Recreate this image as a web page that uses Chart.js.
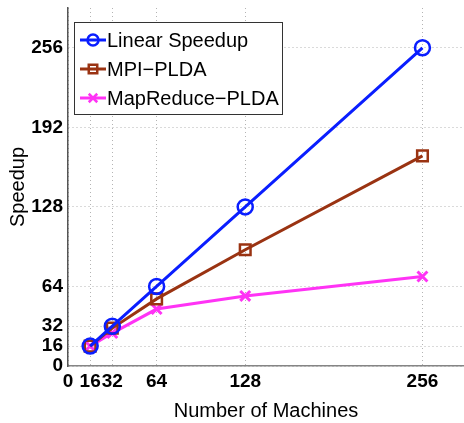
<!DOCTYPE html>
<html>
<head>
<meta charset="utf-8">
<script src="https://cdn.jsdelivr.net/npm/chart.js@4.4.1/dist/chart.umd.min.js"></script>
<style>
  body { margin: 0; background: #fff; }
  #wrap { width: 464px; height: 423px; }
</style>
</head>
<body>
<div id="wrap"><canvas id="speedupChart" width="464" height="423"></canvas></div>
<script>
// values
var machines = [16, 32, 64, 128, 256];
var linearSpeedup = [16, 32, 64, 128, 256];
var mpiPlda = [16, 30.5, 54, 93.5, 169];
var mapReducePlda = [16, 26.5, 45.8, 56.4, 72];
var xTicks = [0, 16, 32, 64, 128, 256];
var yTicks = [0, 16, 32, 64, 128, 192, 256];

var colors = {
    blue: "#0a1eff",
    brown: "#9a3312",
    magenta: "#ff33f5"
};

var fontFamily = '"Liberation Sans", Arial, sans-serif';

function toPoints(ys) {
    var pts = [];
    for (var i = 0; i < machines.length; i++) {
        pts.push({ x: machines[i], y: ys[i] });
    }
    return pts;
}

function fixedTicks(list) {
    return function(scale) {
        scale.ticks = list.map(function(v) { return { value: v }; });
    };
}

// matlab style legend box drawn inside the plot
var boxLegend = {
    id: 'boxLegend',
    afterDatasetsDraw: function(chart) {
        var ctx = chart.ctx;
        var x0 = 74, y0 = 22, w = 208, h = 92;
        ctx.save();
        ctx.fillStyle = '#fff';
        ctx.fillRect(x0, y0, w, h);
        ctx.strokeStyle = '#333';
        ctx.lineWidth = 1;
        ctx.strokeRect(x0 + 0.5, y0 + 0.5, w, h);
        ctx.font = '20px ' + fontFamily;
        ctx.textBaseline = 'middle';
        chart.data.datasets.forEach(function(ds, i) {
            var y = 40 + i * 29;
            ctx.strokeStyle = ds.borderColor;
            ctx.lineWidth = 3;
            ctx.beginPath();
            ctx.moveTo(80, y);
            ctx.lineTo(106, y);
            ctx.stroke();
            ctx.lineWidth = 2.5;
            ctx.fillStyle = 'rgba(0,0,0,0)';
            Chart.helpers.drawPoint(ctx, {
                pointStyle: ds.pointStyle,
                radius: ds.legendRadius,
                borderWidth: 2.5
            }, 93, y);
            ctx.fillStyle = '#000';
            ctx.fillText(ds.label, 107, y + 1);
        });
        ctx.restore();
    }
};

var config = {
    type: 'line',
    data: {
        datasets: [{
            label: 'Linear Speedup',
            data: toPoints(linearSpeedup),
            borderColor: colors.blue,
            backgroundColor: 'rgba(0,0,0,0)',
            pointStyle: 'circle',
            pointRadius: 7.5,
            legendRadius: 5.5,
            pointBorderWidth: 2.5
        }, {
            label: 'MPI\u2212PLDA',
            data: toPoints(mpiPlda),
            borderColor: colors.brown,
            backgroundColor: 'rgba(0,0,0,0)',
            pointStyle: 'rect',
            pointRadius: 7.5,
            legendRadius: 6,
            pointBorderWidth: 2.5
        }, {
            label: 'MapReduce\u2212PLDA',
            data: toPoints(mapReducePlda),
            borderColor: colors.magenta,
            backgroundColor: 'rgba(0,0,0,0)',
            pointStyle: 'crossRot',
            pointRadius: 7,
            legendRadius: 6,
            pointBorderWidth: 3
        }]
    },
    options: {
        responsive: false,
        animation: false,
        elements: {
            line: { borderWidth: 3, tension: 0 }
        },
        layout: {
            autoPadding: false,
            padding: { top: 8, right: 0, bottom: 0, left: 0 }
        },
        plugins: {
            legend: { display: false },
            tooltip: { enabled: false }
        },
        scales: {
            x: {
                type: 'linear',
                min: 0,
                max: 286,
                afterBuildTicks: fixedTicks(xTicks),
                afterFit: function(scale) {
                    scale.height = 57;
                    scale.paddingLeft = 0;
                    scale.paddingRight = 0;
                },
                grid: { color: '#b4b4b4', lineWidth: 1, drawTicks: false },
                border: { color: '#858585', width: 1.5, dash: [1, 3] },
                ticks: {
                    autoSkip: false,
                    maxRotation: 0,
                    padding: 4,
                    color: '#000',
                    font: { family: fontFamily, size: 19, weight: 'bold' }
                },
                title: {
                    display: true,
                    text: 'Number of Machines',
                    color: '#000',
                    padding: { top: 0, bottom: 0 },
                    font: { family: fontFamily, size: 20 }
                }
            },
            y: {
                type: 'linear',
                min: 0,
                max: 288,
                afterBuildTicks: fixedTicks(yTicks),
                afterFit: function(scale) {
                    scale.width = 68;
                    scale.paddingTop = 0;
                    scale.paddingBottom = 0;
                },
                grid: { color: '#b4b4b4', lineWidth: 1, drawTicks: false },
                border: { color: '#555', width: 1.5, dash: [1, 3] },
                ticks: {
                    autoSkip: false,
                    padding: 5,
                    color: '#000',
                    font: { family: fontFamily, size: 19, weight: 'bold' }
                },
                title: {
                    display: true,
                    text: 'Speedup',
                    color: '#000',
                    padding: { top: 6, bottom: 0 },
                    font: { family: fontFamily, size: 20 }
                }
            }
        }
    },
    plugins: [boxLegend]
};

var speedupChart = new Chart(document.getElementById('speedupChart').getContext('2d'), config);
</script>
</body>
</html>
